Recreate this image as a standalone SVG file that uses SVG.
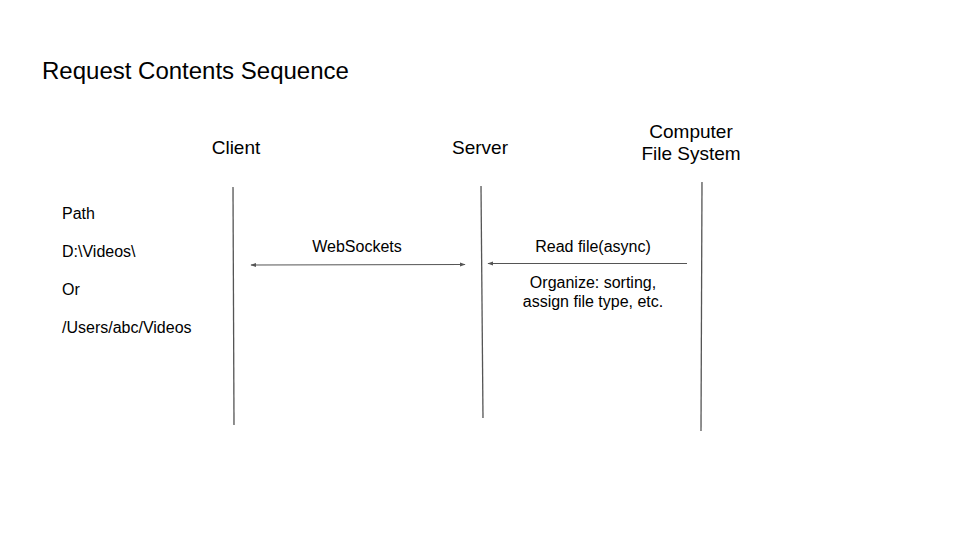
<svg xmlns="http://www.w3.org/2000/svg" width="960" height="540" viewBox="0 0 960 540">
<style>
text{font-family:"Liberation Sans",Arial,sans-serif;fill:#000}
.h{font-size:19px;text-anchor:middle}
.t{font-size:16px}
.c{font-size:16px;text-anchor:middle}
.life{stroke:#555;stroke-width:1.3;fill:none}
.msg{stroke:#555;stroke-width:1.2;fill:none}
</style>
<defs>
<marker id="ah" viewBox="0 0 10 10" refX="9" refY="5" markerWidth="6" markerHeight="6" orient="auto-start-reverse" markerUnits="userSpaceOnUse"><path d="M0,1.5 L10,5 L0,8.5 z" fill="#555"/></marker>
</defs>
<rect width="960" height="540" fill="#fff"/>
<text x="42" y="79" style="font-size:24px">Request Contents Sequence</text>
<g id="client">
<text class="h" x="236" y="154">Client</text>
<line class="life" x1="233" y1="187" x2="234" y2="425"/>
</g>
<g id="server">
<text class="h" x="480" y="154">Server</text>
<line class="life" x1="481" y1="186" x2="483" y2="418"/>
</g>
<g id="fs">
<text class="h" x="691" y="138">Computer</text>
<text class="h" x="691" y="160">File System</text>
<line class="life" x1="702" y1="182" x2="701" y2="431"/>
</g>
<g id="path-note">
<text class="t" x="62" y="219">Path</text>
<text class="t" x="62" y="257">D:\Videos\</text>
<text class="t" x="62" y="295">Or</text>
<text class="t" x="62" y="333">/Users/abc/Videos</text>
</g>
<g id="connectors">
<line class="msg" x1="251" y1="265" x2="465" y2="264.5" marker-start="url(#ah)" marker-end="url(#ah)"/>
<line class="msg" x1="687" y1="263.5" x2="488" y2="263.5" marker-end="url(#ah)"/>
<text class="c" x="357" y="252">WebSockets</text>
<text class="c" x="593" y="252">Read file(async)</text>
<text class="c" x="593" y="288">Organize: sorting,</text>
<text class="c" x="593" y="307">assign file type, etc.</text>
</g>
</svg>
